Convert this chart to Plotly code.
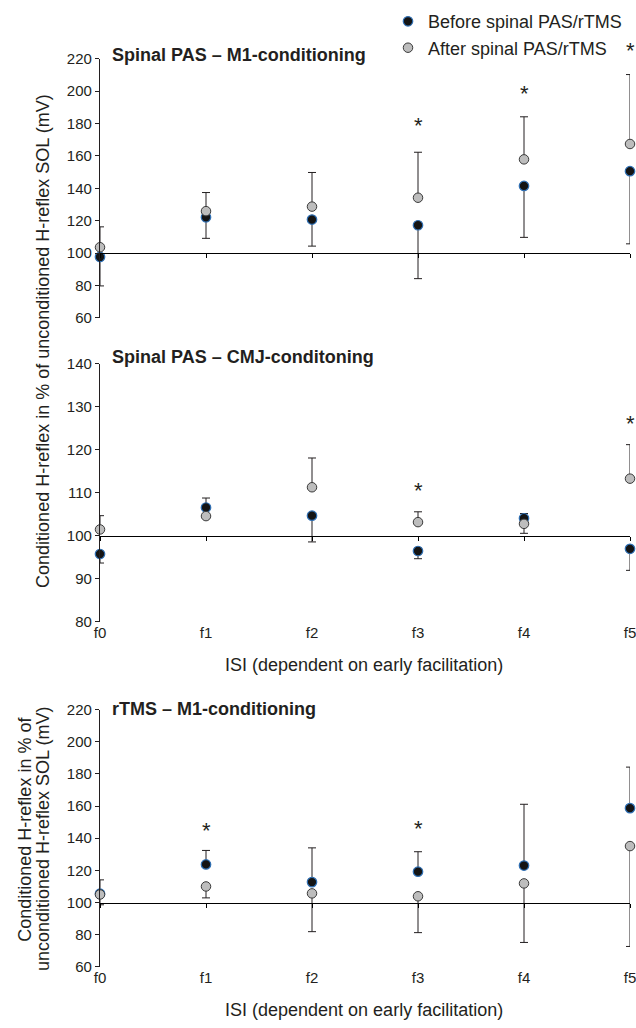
import plotly.graph_objects as go

# ---------------- data ----------------
isi = ["f0", "f1", "f2", "f3", "f4", "f5"]

# Panel A: Spinal PAS – M1-conditioning
a_before = [97.6, 122.1, 120.7, 117.2, 141.5, 150.6]
a_before_up = [0, 0, 0, 0, 0, 0]
a_before_dn = [17.9, 13.0, 16.4, 33.0, 31.8, 44.9]
a_after = [103.6, 125.9, 128.7, 134.2, 157.9, 167.4]
a_after_up = [12.6, 11.5, 21.1, 28.1, 26.3, 42.9]
a_after_dn = [0, 0, 0, 0, 0, 0]
a_star = [None, None, None, 176.3, 196.2, 222.5]

# Panel B: Spinal PAS – CMJ-conditoning
b_before = [95.8, 106.6, 104.7, 96.5, 104.1, 97.0]
b_before_up = [0, 2.2, 0, 0, 1.1, 0]
b_before_dn = [2.1, 0, 6.1, 1.8, 0, 5.0]
b_after = [101.5, 104.6, 111.3, 103.2, 102.8, 113.3]
b_after_up = [3.2, 0, 6.8, 2.4, 0, 7.9]
b_after_dn = [0, 0, 0, 0, 2.2, 0]
b_star = [None, None, None, 109.7, None, 125.3]

# Panel C: rTMS – M1-conditioning
c_before = [105.5, 123.7, 112.7, 119.2, 123.0, 158.7]
c_before_up = [8.6, 8.7, 21.3, 12.4, 38.1, 25.5]
c_before_dn = [0, 0, 0, 0, 0, 0]
c_after = [105.0, 110.0, 105.7, 103.9, 111.9, 135.1]
c_after_up = [0, 0, 0, 0, 0, 0]
c_after_dn = [6.4, 7.1, 23.8, 22.6, 36.7, 62.4]
c_star = [None, 142.4, None, 143.6, None, None]

titles = ["Spinal PAS – M1-conditioning", "Spinal PAS – CMJ-conditoning", "rTMS – M1-conditioning"]
legend_names = ["Before spinal PAS/rTMS", "After spinal PAS/rTMS"]
ytitle_main = "Conditioned H-reflex in % of unconditioned H-reflex SOL (mV)"
ytitle_c = ["Conditioned H-reflex in % of", "unconditioned H-reflex SOL (mV)"]
xtitle = "ISI (dependent on early facilitation)"
baseline = 100

# ---------------- layout helpers ----------------
W, H = 636, 1028
L, R = 100, 6
PW = W - L - R
FONT = "Liberation Sans, Arial, Helvetica, sans-serif"
TXT = "#231f20"

def py(p):
    return 1 - p / H

def px(p):
    return (p - L) / PW

panels = [
    dict(before=a_before, bup=a_before_up, bdn=a_before_dn,
         after=a_after, aup=a_after_up, adn=a_after_dn, star=a_star,
         rng=[60, 220], dtick=20, dom=[py(314), py(50.7)], ty=46.7, labels=False),
    dict(before=b_before, bup=b_before_up, bdn=b_before_dn,
         after=b_after, aup=b_after_up, adn=b_after_dn, star=b_star,
         rng=[80, 140], dtick=10, dom=[py(623.3), py(360.7)], ty=354, labels=True),
    dict(before=c_before, bup=c_before_up, bdn=c_before_dn,
         after=c_after, aup=c_after_up, adn=c_after_dn, star=c_star,
         rng=[60, 220], dtick=20, dom=[py(974), py(712.3)], ty=711.7, labels=True),
]

xi = list(range(len(isi)))
fig = go.Figure()
annotations = []
layout = {}

for i, p in enumerate(panels):
    n = i + 1
    xa = "x" if n == 1 else f"x{n}"
    ya = "y" if n == 1 else f"y{n}"
    sfx = "" if n == 1 else str(n)
    xb = f"x{n + 3}"
    # dummy trace so the baseline (100 %) axis is rendered
    fig.add_trace(go.Scatter(x=[None], y=[None], xaxis=xb, yaxis=ya, mode="markers",
                             showlegend=False, hoverinfo="skip"))
    fig.add_trace(go.Scatter(
        x=xi, y=p["before"], mode="markers", name=legend_names[0],
        xaxis=xa, yaxis=ya, showlegend=(n == 1), cliponaxis=False,
        marker=dict(size=9.5, color="#141414", line=dict(color="#2f6fb3", width=1.2)),
        error_y=dict(type="data", symmetric=False, array=p["bup"], arrayminus=p["bdn"],
                     color=TXT, thickness=1, width=4),
    ))
    fig.add_trace(go.Scatter(
        x=xi, y=p["after"], mode="markers", name=legend_names[1],
        xaxis=xa, yaxis=ya, showlegend=(n == 1), cliponaxis=False,
        marker=dict(size=9.5, color="#bdbdbd", line=dict(color="#3a3a3a", width=1)),
        error_y=dict(type="data", symmetric=False, array=p["aup"], arrayminus=p["adn"],
                     color=TXT, thickness=1, width=4),
    ))
    # main x axis (labels only)
    layout[f"xaxis{sfx}"] = dict(
        domain=[0, 1], anchor=ya, range=[0, 5], tickvals=xi, ticktext=isi,
        showline=False, ticks="", showgrid=False, zeroline=False,
        showticklabels=p["labels"], ticklabeloverflow="allow",
        tickfont=dict(size=15, color=TXT, family=FONT),
    )
    layout[f"yaxis{sfx}"] = dict(
        domain=p["dom"], anchor=xa, range=p["rng"], dtick=p["dtick"],
        showline=True, linecolor=TXT, linewidth=1.3, ticks="outside", ticklen=4,
        tickwidth=1, tickcolor=TXT, showgrid=False, zeroline=False,
        tickfont=dict(size=15, color=TXT, family=FONT),
    )
    # baseline axis at 100 %
    lo, hi = p["rng"]
    d0, d1 = p["dom"]
    pos = d0 + (baseline - lo) / (hi - lo) * (d1 - d0)
    layout[f"xaxis{n + 3}"] = dict(
        overlaying=xa, anchor="free", position=pos, range=[0, 5], tickvals=xi,
        showticklabels=False, showline=True, linecolor="#000000", linewidth=1.4,
        ticks="outside", ticklen=4, tickwidth=1.4, tickcolor="#000000",
        showgrid=False, zeroline=False,
    )
    # panel title
    annotations.append(dict(
        text=f"<b>{titles[i]}</b>", xref="paper", yref="paper", x=px(110), y=py(p["ty"]),
        xanchor="left", yanchor="middle", showarrow=False,
        font=dict(size=18, color=TXT, family=FONT),
    ))
    # significance asterisks (y mapped to paper so stars above the axis top still show)
    for k, s in enumerate(p["star"]):
        if s is not None:
            annotations.append(dict(
                text="*", xref=xa, yref="paper", x=xi[k],
                y=d0 + (s - lo) / (hi - lo) * (d1 - d0), yshift=4,
                xanchor="center", yanchor="middle", showarrow=False,
                font=dict(size=22, color=TXT, family=FONT),
            ))

# axis titles
annotations.append(dict(
    text=ytitle_main, xref="paper", yref="paper", x=px(43), y=py(337.5), textangle=-90,
    xanchor="center", yanchor="middle", showarrow=False, font=dict(size=18, color=TXT, family=FONT)))
annotations.append(dict(
    text=ytitle_c[0], xref="paper", yref="paper", x=px(25), y=py(834.5), textangle=-90,
    xanchor="center", yanchor="middle", showarrow=False, font=dict(size=18, color=TXT, family=FONT)))
annotations.append(dict(
    text=ytitle_c[1], xref="paper", yref="paper", x=px(43), y=py(844), textangle=-90,
    xanchor="center", yanchor="middle", showarrow=False, font=dict(size=18, color=TXT, family=FONT)))
for yy in (667, 1018):
    annotations.append(dict(
        text=xtitle, xref="paper", yref="paper", x=px(364), y=py(yy),
        xanchor="center", yanchor="middle", showarrow=False, font=dict(size=18, color=TXT, family=FONT)))

fig.update_layout(
    width=W, height=H, margin=dict(l=L, r=R, t=0, b=0),
    paper_bgcolor="white", plot_bgcolor="white",
    font=dict(family=FONT, color=TXT, size=15),
    legend=dict(x=px(388), y=1 + 6 / H, xanchor="left", yanchor="top",
                bgcolor="rgba(0,0,0,0)", font=dict(size=18, color=TXT, family=FONT),
                tracegroupgap=0),
    annotations=annotations,
    **layout,
)

fig.write_html("out.html")
